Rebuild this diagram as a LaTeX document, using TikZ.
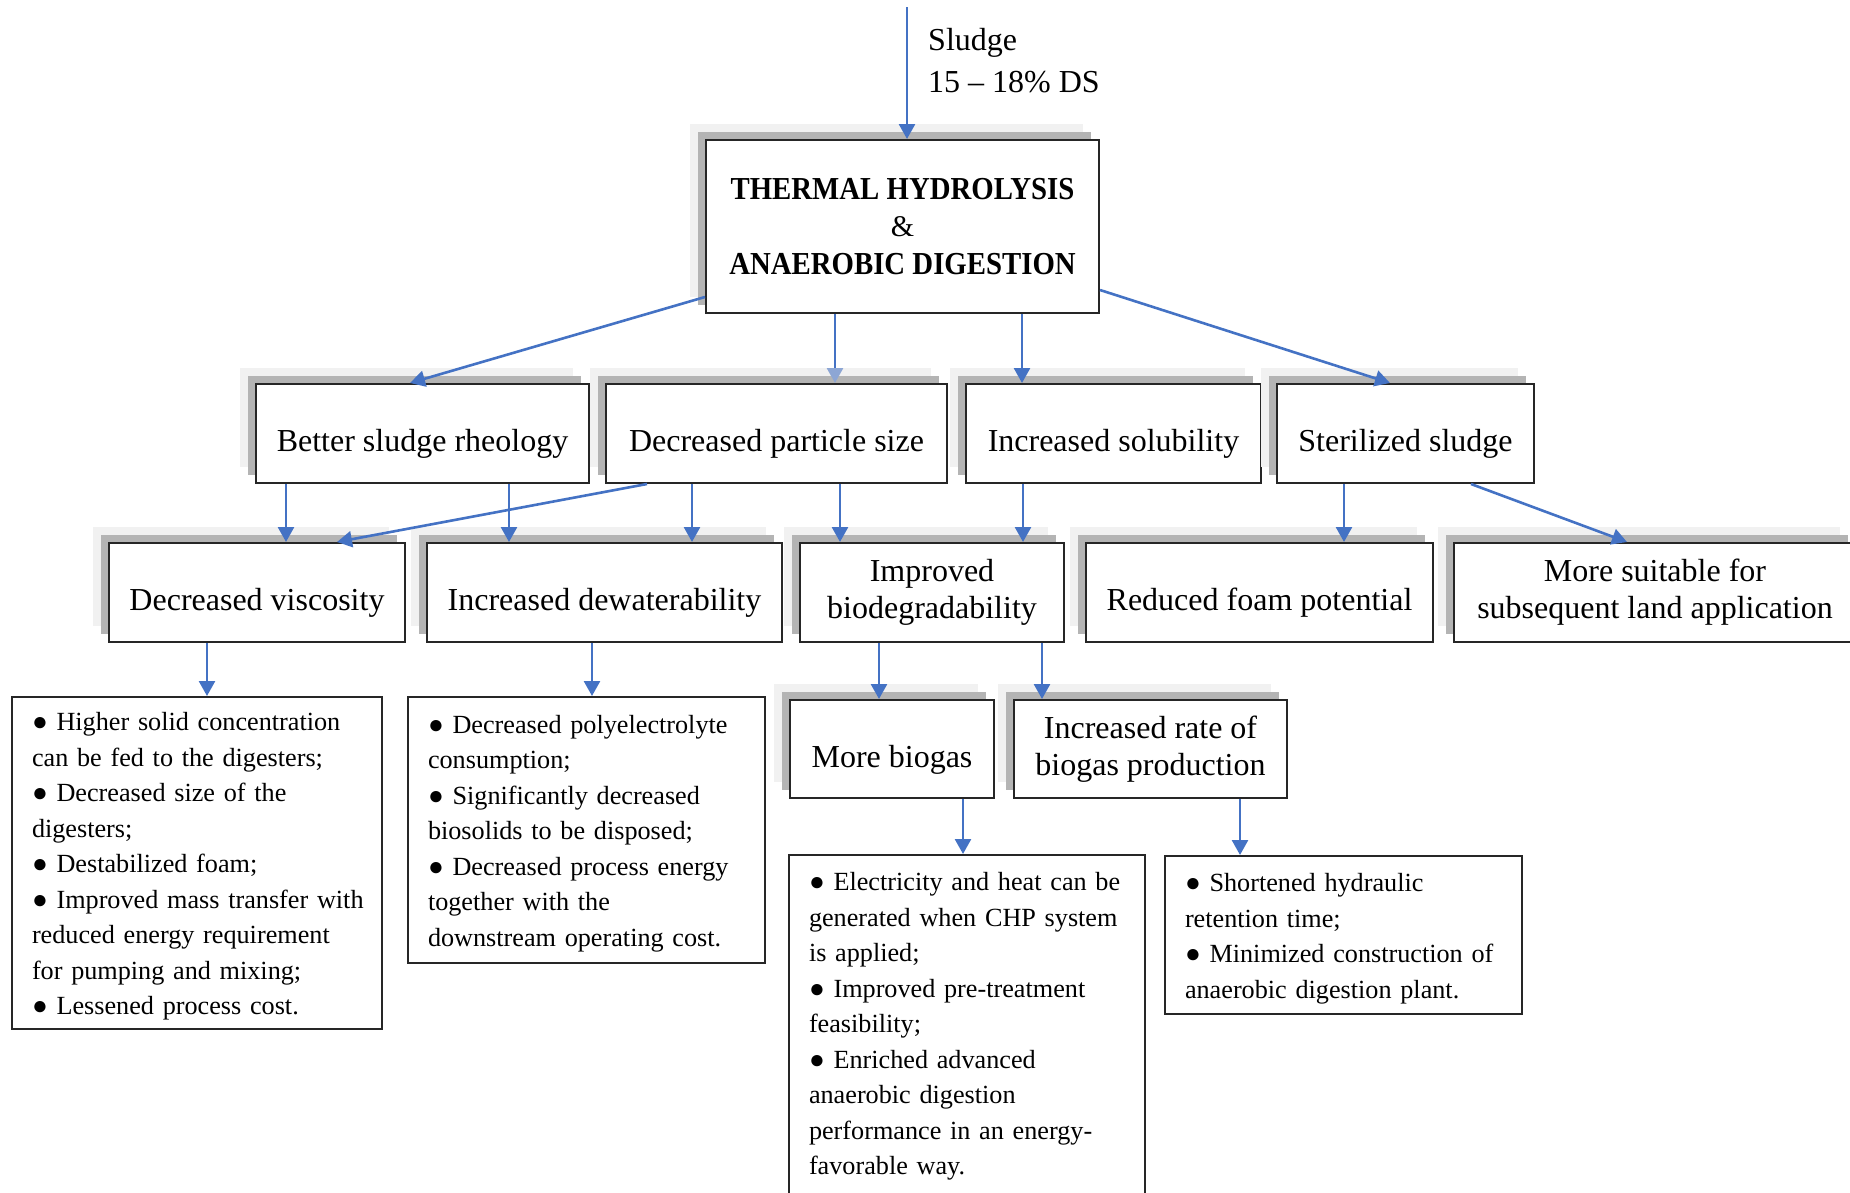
\documentclass[tikz,border=0pt]{standalone}
\usepackage{fontspec}
\setmainfont{Liberation Serif}
\newfontfamily\headfont{Liberation Serif}[FakeStretch=0.9]
\usetikzlibrary{arrows.meta}
\definecolor{arrowblue}{RGB}{68,114,196}
\definecolor{arrowpale}{RGB}{141,166,212}
\definecolor{edgecol}{RGB}{38,38,38}
\definecolor{shdark}{RGB}{180,180,180}
\definecolor{shlight}{RGB}{241,241,241}
% one unbreakable line of a bullet list
\newcommand\Lx[1]{\mbox{\strut#1}}
% first line of a list, with a little extra room above it
\newcommand\Lf[1]{\mbox{\rule{0pt}{30.5pt}\strut#1}}

\begin{document}
\begin{tikzpicture}[x=1pt,y=-1pt,
  box/.style={draw=edgecol, line width=2pt, fill=white, inner sep=0pt},
  shadowed/.style={
    preaction={fill=shlight, draw=none, transform canvas={xshift=-16pt,yshift=16pt}},
    preaction={fill=shdark, draw=none, transform canvas={xshift=-8pt,yshift=8pt}}},
  lab/.style={box, shadowed, font=\fontsize{32}{37}\selectfont, align=center},
  one/.style={text height=40pt, text depth=4pt},
  list/.style={box, font=\fontsize{26.2}{35.5}\selectfont, align=left,
    inner xsep=20pt, inner ysep=0pt},
  arr/.style={draw=arrowblue, line width=2.6pt, -{Triangle[length=15pt,width=16pt]}},
]
\useasboundingbox (0,0) rectangle (1850,1192);
\clip (0,0) rectangle (1850,1192);
\fill[white] (0,0) rectangle (1850,1192);

% input label
\node[anchor=base west, inner sep=0pt, font=\fontsize{32}{37}\selectfont] (sludge) at (928,50) {Sludge};
\node[anchor=base west, inner sep=0pt, font=\fontsize{32}{37}\selectfont] (ds) at (928,92) {15 -- 18\% DS};

% main process
\node[lab, minimum width=393pt, minimum height=173pt, font=\fontsize{30}{37.5}\selectfont] (central) at (902.5,226.5)
  {{\headfont\bfseries\fontsize{32}{37.5}\selectfont THERMAL HYDROLYSIS}\\ \&\\
   {\headfont\bfseries\fontsize{32}{37.5}\selectfont ANAEROBIC DIGESTION}};

% first level effects
\node[lab, one, minimum width=333pt, minimum height=99pt] (rheo) at (422.5,433.5) {Better sludge rheology};
\node[lab, one, minimum width=341pt, minimum height=99pt] (particle) at (776.5,433.5) {Decreased particle size};
\node[lab, one, minimum width=295pt, minimum height=99pt] (solub) at (1113.5,433.5) {Increased solubility};
\node[lab, one, minimum width=257pt, minimum height=99pt] (steril) at (1405.5,433.5) {Sterilized sludge};

% second level effects
\node[lab, one, minimum width=296pt, minimum height=99pt] (visc) at (257,592.5) {Decreased viscosity};
\node[lab, one, minimum width=355pt, minimum height=99pt] (dewat) at (604.5,592.5) {Increased dewaterability};
\node[lab, minimum width=264pt, minimum height=99pt] (biodeg) at (932,592.5) {Improved\\biodegradability};
\node[lab, one, minimum width=347pt, minimum height=99pt] (foam) at (1259.5,592.5) {Reduced foam potential};
\node[lab, minimum width=402pt, minimum height=99pt] (land) at (1655,592.5) {More suitable for\\subsequent land application};

% biogas outcomes
\node[lab, one, minimum width=204pt, minimum height=98pt] (biogas) at (892,749) {More biogas};
\node[lab, minimum width=273pt, minimum height=98pt] (rate) at (1150.5,749) {Increased rate of\\biogas production};

% benefit lists
\node[list, text width=330pt, minimum height=332pt] (bl1) at (197,863)
  {\Lf{● Higher solid concentration}\\
   \Lx{can be fed to the digesters;}\\
   \Lx{● Decreased size of the}\\
   \Lx{digesters;}\\
   \Lx{● Destabilized foam;}\\
   \Lx{● Improved mass transfer with}\\
   \Lx{reduced energy requirement}\\
   \Lx{for pumping and mixing;}\\
   \Lx{● Lessened process cost.}};
\node[list, text width=317pt, minimum height=266pt] (bl2) at (586.5,830)
  {\Lf{● Decreased polyelectrolyte}\\
   \Lx{consumption;}\\
   \Lx{● Significantly decreased}\\
   \Lx{biosolids to be disposed;}\\
   \Lx{● Decreased process energy}\\
   \Lx{together with the}\\
   \Lx{downstream operating cost.}};
\node[list, text width=316pt, minimum height=341pt] (bl3) at (967,1025.5)
  {\Lx{● Electricity and heat can be}\\
   \Lx{generated when CHP system}\\
   \Lx{is applied;}\\
   \Lx{● Improved pre-treatment}\\
   \Lx{feasibility;}\\
   \Lx{● Enriched advanced}\\
   \Lx{anaerobic digestion}\\
   \Lx{performance in an energy-}\\
   \Lx{favorable way.}};
\node[list, text width=317pt, minimum height=158pt] (bl4) at (1343.5,935)
  {\Lf{● Shortened hydraulic}\\
   \Lx{retention time;}\\
   \Lx{● Minimized construction of}\\
   \Lx{anaerobic digestion plant.}};

% columns of the vertical connectors
\path (907,7) coordinate (feed)
      (835,0) coordinate (xa) (1022,0) coordinate (xb)
      (286,0) coordinate (xc) (509,0) coordinate (xd)
      (692,0) coordinate (xe) (840,0) coordinate (xf)
      (1023,0) coordinate (xg) (1344,0) coordinate (xh)
      (207,0) coordinate (xi) (592,0) coordinate (xj)
      (879,0) coordinate (xk) (1042,0) coordinate (xl)
      (963,0) coordinate (xm) (1240,0) coordinate (xn);

\draw[arr] (feed) -- (feed |- central.north);

\draw[arr] ([yshift=17pt]central.south west) -- ([xshift=-12.5pt]rheo.north);
\draw[arr, -{Triangle[length=15pt,width=16pt,color=arrowpale]}] (central.south -| xa) -- (particle.north -| xa);
\draw[arr] (central.south -| xb) -- (solub.north -| xb);
\draw[arr] ([yshift=24pt]central.south east) -- ([xshift=-15.5pt]steril.north);

\draw[arr] (rheo.south -| xc) -- (visc.north -| xc);
\draw[arr] (rheo.south -| xd) -- (dewat.north -| xd);
\draw[arr] ([xshift=42pt]particle.south west) -- ([xshift=80pt]visc.north);
\draw[arr] (particle.south -| xe) -- (dewat.north -| xe);
\draw[arr] (particle.south -| xf) -- (biodeg.north -| xf);
\draw[arr] (solub.south -| xg) -- (biodeg.north -| xg);
\draw[arr] (steril.south -| xh) -- (foam.north -| xh);
\draw[arr] ([xshift=195pt]steril.south west) -- ([xshift=-28pt]land.north);

\draw[arr] (visc.south -| xi) -- (bl1.north -| xi);
\draw[arr] (dewat.south -| xj) -- (bl2.north -| xj);
\draw[arr] (biodeg.south -| xk) -- (biogas.north -| xk);
\draw[arr] (biodeg.south -| xl) -- (rate.north -| xl);
\draw[arr] (biogas.south -| xm) -- (bl3.north -| xm);
\draw[arr] (rate.south -| xn) -- (bl4.north -| xn);
\end{tikzpicture}
\end{document}
